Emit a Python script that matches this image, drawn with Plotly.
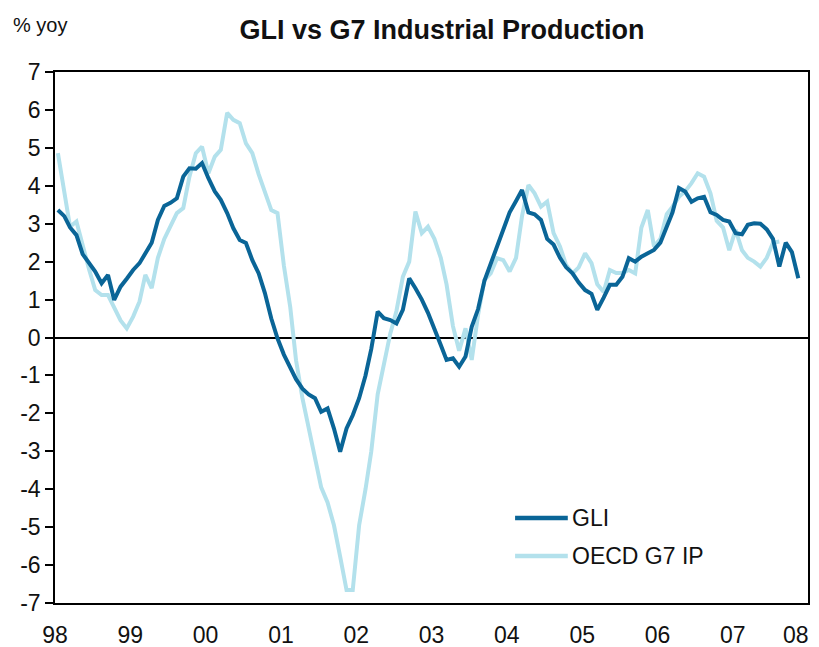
import pandas as pd
import plotly.graph_objects as go

# Monthly series, Jan 1998 onwards (% yoy)
gli = [3.36, 3.2, 2.9, 2.7, 2.2, 1.95, 1.74, 1.43, 1.65, 0.99, 1.34, 1.55,
       1.78, 1.96, 2.2, 2.5, 3.1, 3.47, 3.55, 3.67, 4.24, 4.46, 4.45, 4.6,
       4.2, 3.85, 3.63, 3.28, 2.88, 2.57, 2.49, 2.04, 1.69, 1.17, 0.5, -0.02,
       -0.45, -0.77, -1.1, -1.35, -1.5, -1.6, -1.96, -1.87, -2.4, -3.01, -2.4, -2.05,
       -1.6, -1.0, -0.3, 0.68, 0.51, 0.46, 0.37, 0.73, 1.56, 1.3, 1.0, 0.65,
       0.25, -0.2, -0.59, -0.55, -0.77, -0.5, 0.28, 0.75, 1.5, 1.96, 2.4, 2.9,
       3.3, 3.6, 3.89, 3.3, 3.25, 3.1, 2.6, 2.45, 2.1, 1.85, 1.69, 1.45,
       1.25, 1.15, 0.73, 1.05, 1.39, 1.39, 1.6, 2.09, 2.0, 2.13, 2.22, 2.31,
       2.5, 2.92, 3.3, 3.94, 3.85, 3.58, 3.67, 3.71, 3.3, 3.23, 3.1, 3.06,
       2.75, 2.72, 2.97, 3.01, 3.0, 2.85, 2.6, 1.87, 2.5, 2.25, 1.56]

oecd_g7_ip = [4.86, 3.9, 2.92, 3.06, 2.4, 1.8, 1.25, 1.12, 1.12, 0.8, 0.45, 0.24,
              0.55, 0.95, 1.65, 1.3, 2.1, 2.6, 2.95, 3.28, 3.41, 4.24, 4.86, 5.03,
              4.33, 4.77, 4.95, 5.92, 5.74, 5.65, 5.12, 4.86, 4.3, 3.8, 3.36, 3.28,
              1.9, 0.8, -0.6, -1.6, -2.4, -3.1, -3.95, -4.35, -4.95, -5.78, -6.66, -6.66,
              -4.95, -4.0, -3.0, -1.5, -0.75, 0.1, 0.7, 1.6, 2.0, 3.32, 2.75, 2.92,
              2.6, 2.1, 1.4, 0.3, -0.35, 0.24, -0.59, 0.6, 1.52, 1.69, 2.09, 2.04,
              1.74, 2.1, 3.2, 4.02, 3.8, 3.45, 3.58, 2.75, 2.4, 1.91, 1.69, 1.85,
              2.22, 1.96, 1.4, 1.2, 1.78, 1.7, 1.7, 1.78, 1.69, 2.9, 3.36, 2.4,
              2.6, 3.25, 3.45, 3.71, 3.85, 4.07, 4.33, 4.24, 3.8, 3.08, 2.9, 2.3,
              2.84, 2.3, 2.1, 2.0, 1.87, 2.1, 2.5, 2.53]

tick_years = [str(y) for y in range(1998, 2009)]
tick_labels = ["98", "99", "00", "01", "02", "03", "04", "05", "06", "07", "08"]
y_tick_values = list(range(-7, 8))
y_tick_labels = [str(v) for v in y_tick_values]  # plain hyphen minus as in original

series_names = ["GLI", "OECD G7 IP"]
series_colors = ["#0a6597", "#b3e1ec"]

def month_dates(n):
    return pd.date_range("1998-01-01", periods=n, freq="MS") + pd.Timedelta(days=14)

FONT = "Liberation Sans, Arial, sans-serif"

fig = go.Figure()
fig.add_trace(go.Scatter(x=month_dates(len(oecd_g7_ip)), y=oecd_g7_ip, mode="lines",
                         name=series_names[1],
                         line=dict(color=series_colors[1], width=4), showlegend=False))
fig.add_trace(go.Scatter(x=month_dates(len(gli)), y=gli, mode="lines",
                         name=series_names[0],
                         line=dict(color=series_colors[0], width=4), showlegend=False))

# manual legend (long line samples as in the original)
legend_rows = [(series_names[0], series_colors[0], 0.160),
               (series_names[1], series_colors[1], 0.0885)]
for name, color, ly in legend_rows:
    fig.add_shape(type="line", xref="paper", yref="paper",
                  x0=0.611, x1=0.681, y0=ly, y1=ly,
                  line=dict(color=color, width=4.5))
    fig.add_annotation(xref="paper", yref="paper", x=0.684, y=ly,
                       xanchor="left", yanchor="middle", text=name, showarrow=False,
                       font=dict(family=FONT, size=23, color="#111111"))

fig.add_annotation(xref="paper", yref="paper", x=-0.058, y=1.089,
                   xanchor="left", yanchor="middle", text="% yoy", showarrow=False,
                   font=dict(family=FONT, size=20, color="#111111"))

# last year label sits at the right edge of the page; anchor it so it stays visible
fig.add_annotation(xref="x", yref="paper", x=tick_years[-1], y=0, yshift=-32,
                   xanchor="right", xshift=3, yanchor="middle",
                   text=tick_labels[-1], showarrow=False,
                   font=dict(family=FONT, size=23, color="#111111"))

# the page body has an 8px default margin, so the plot area is offset by that here
fig.update_layout(
    width=819, height=647,
    margin=dict(l=47, r=19, t=64, b=52, autoexpand=False),
    paper_bgcolor="white", plot_bgcolor="white",
    title=dict(text="<b>GLI vs G7 Industrial Production</b>", x=0.530, xanchor="center",
               y=0.966, yanchor="middle",
               font=dict(family=FONT, size=27, color="#111111")),
)

fig.update_xaxes(
    type="date", range=["1998-01-01", "2008-01-01"], automargin=False,
    tickmode="array", tickvals=tick_years[:-1], ticktext=tick_labels[:-1],
    ticks="", ticklabelstandoff=11, showgrid=False, zeroline=False,
    showline=True, linecolor="black", linewidth=1.5, mirror=True,
    tickfont=dict(family=FONT, size=23, color="#111111"),
)
fig.update_yaxes(
    range=[-7, 7], automargin=False,
    tickmode="array", tickvals=y_tick_values, ticktext=y_tick_labels,
    ticks="outside", ticklen=8, tickwidth=1.5, tickcolor="black",
    showgrid=False, zeroline=True, zerolinecolor="black", zerolinewidth=1.5,
    showline=True, linecolor="black", linewidth=1.5, mirror=True,
    tickfont=dict(family=FONT, size=23, color="#111111"),
)

fig.write_html("out.html")
